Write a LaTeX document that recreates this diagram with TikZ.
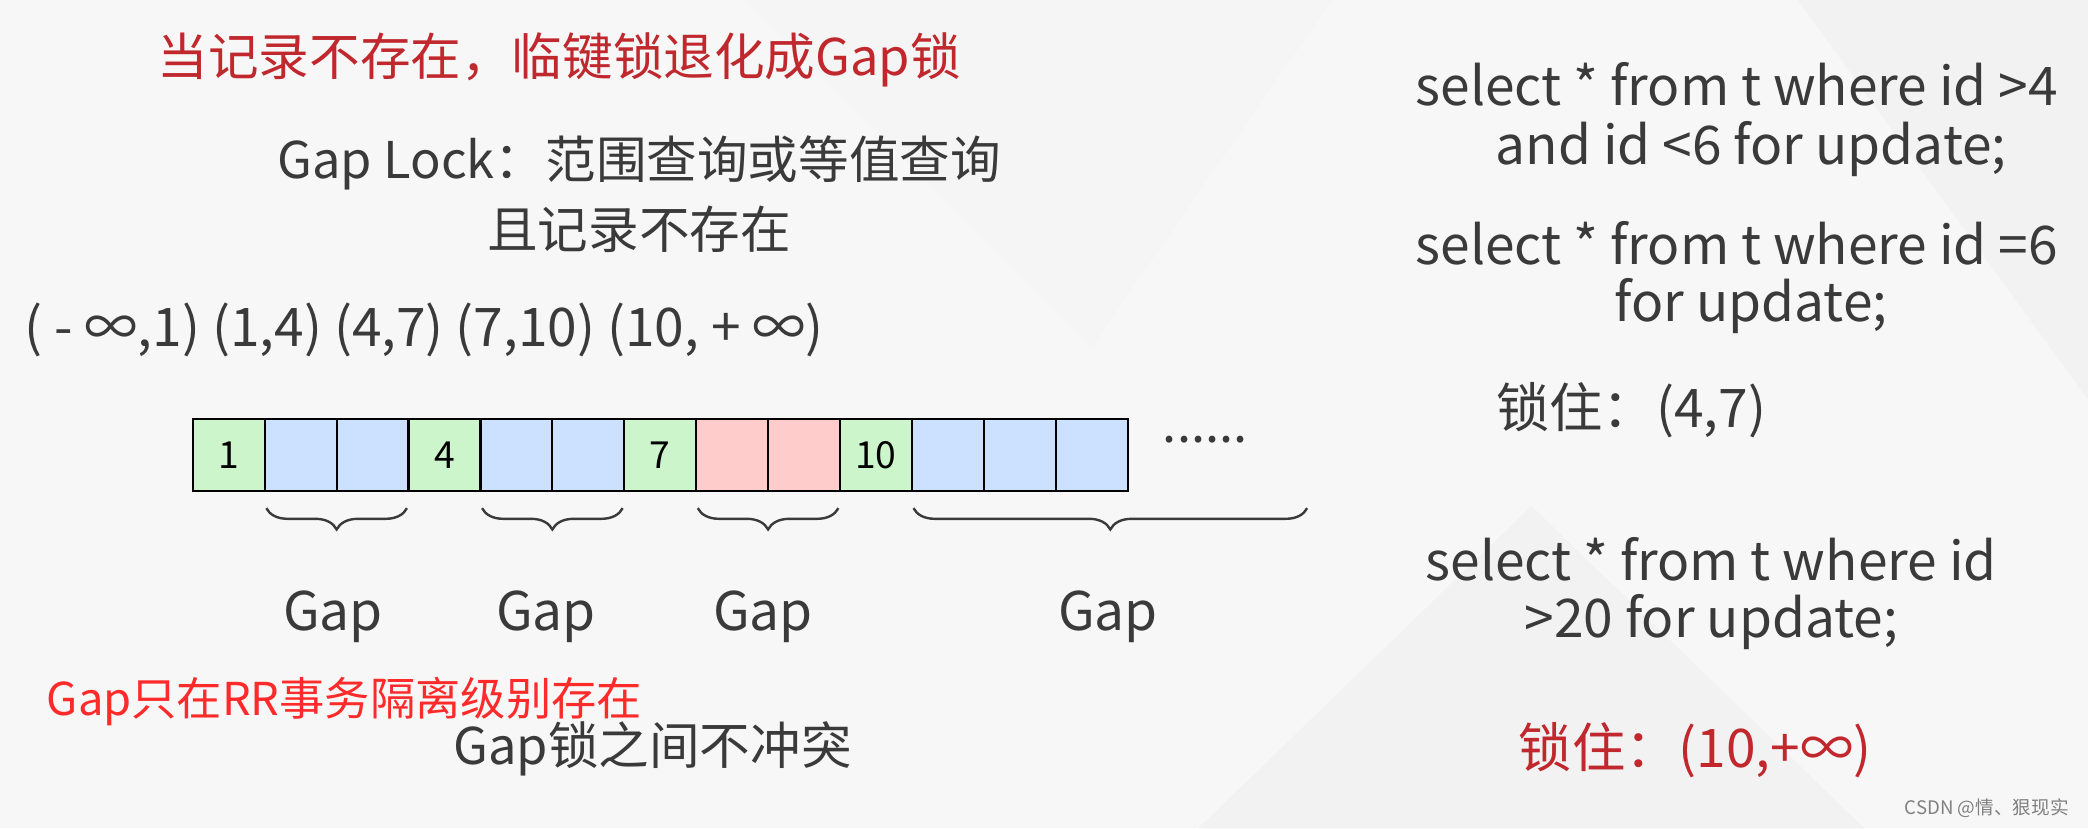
\documentclass[tikz,border=0pt]{standalone}
\usepackage{fontspec}
\setmainfont{Noto Sans CJK SC}
\usetikzlibrary{decorations.pathreplacing}
\definecolor{txt}{HTML}{3A3A3A}
\definecolor{dred}{HTML}{C0282D}
\definecolor{bred}{HTML}{FF2A2A}
\definecolor{cg}{HTML}{CCF5CC}
\definecolor{cb}{HTML}{CCE0FF}
\definecolor{cp}{HTML}{FFCCCC}
\tikzset{
 t/.style={font=\fontsize{38}{40}\selectfont, text=txt, inner sep=0pt},
 tl/.style={font=\fontsize{40}{42}\selectfont, text=txt, inner sep=0pt},
 cell/.style={draw=black, line width=1.6pt, minimum width=54pt, minimum height=54pt, inner sep=0pt, font=\fontsize{28}{30}\selectfont, anchor=north west},
 br/.style={decorate, decoration={brace, mirror, amplitude=16pt}, line width=1.8pt, draw=txt},
}
\begin{document}
\begin{tikzpicture}[x=1pt,y=-1pt]
\useasboundingbox[fill=gray!6] (0,0) rectangle (1568,622);
\fill[white!92!gray] (560,0) -- (1000,0) -- (820,260) -- cycle;
\fill[white!90!gray] (1350,0) -- (1568,0) -- (1568,300) -- cycle;
\fill[white!90!gray] (900,622) -- (1150,380) -- (1400,622) -- cycle;
\node[t, text=dred] (title) at (420,45) {当记录不存在，临键锁退化成Gap锁};
\node[t] (gl1) at (480,122) {Gap Lock：范围查询或等值查询};
\node[t] (gl2) at (480,172) {且记录不存在};
\node[tl, anchor=west] (ranges) at (18,248) {( - ∞,1) (1,4) (4,7) (7,10) (10, + ∞)};
\foreach \i/\c/\l in {0/cg/1,1/cb/,2/cb/,3/cg/4,4/cb/,5/cb/,6/cg/7,7/cp/,8/cp/,9/cg/10,10/cb/,11/cb/,12/cb/}
  \node[cell, fill=\c] (c\i) at (144+\i*54,314) {\l};
\node[t] (dots) at (905,330) {......};
\draw[br] ([xshift=2pt,yshift=-12pt]c1.south west) -- ([xshift=-2pt,yshift=-12pt]c2.south east);
\draw[br] ([xshift=2pt,yshift=-12pt]c4.south west) -- ([xshift=-2pt,yshift=-12pt]c5.south east);
\draw[br] ([xshift=2pt,yshift=-12pt]c7.south west) -- ([xshift=-2pt,yshift=-12pt]c8.south east);
\draw[br] ([xshift=2pt,yshift=-12pt]c10.south west) -- ([xshift=134pt,yshift=-12pt]c12.south east);
\node[tl] (g1) at (250,463) {Gap};
\node[tl] (g2) at (410,463) {Gap};
\node[tl] (g3) at (573,463) {Gap};
\node[tl] (g4) at (832,463) {Gap};
\node[font=\fontsize{34}{36}\selectfont, inner sep=0pt, text=bred, anchor=west] (rr) at (35,527) {Gap只在RR事务隔离级别存在};
\node[t] (nc) at (490,562) {Gap锁之间不冲突};
\node[tl, anchor=west] (q1a) at (1063,63) {select * from t where id >4};
\node[tl] (q1b) at (1315,112) {and id <6 for update;};
\node[tl, anchor=west] (q2a) at (1063,183) {select * from t where id =6};
\node[tl] (q2b) at (1315,230) {for update;};
\node[tl] (l1) at (1225,308) {锁住：(4,7)};
\node[tl] (q3a) at (1285,420) {select * from t where id};
\node[tl] (q3b) at (1285,467) {>20 for update;};
\node[tl, text=dred] (l2) at (1273,563) {锁住：(10,+∞)};
\node[font=\fontsize{14}{15}\selectfont, text=gray, inner sep=0pt] (csdn) at (1492,607) {CSDN @情、狠现实};
\end{tikzpicture}
\end{document}
